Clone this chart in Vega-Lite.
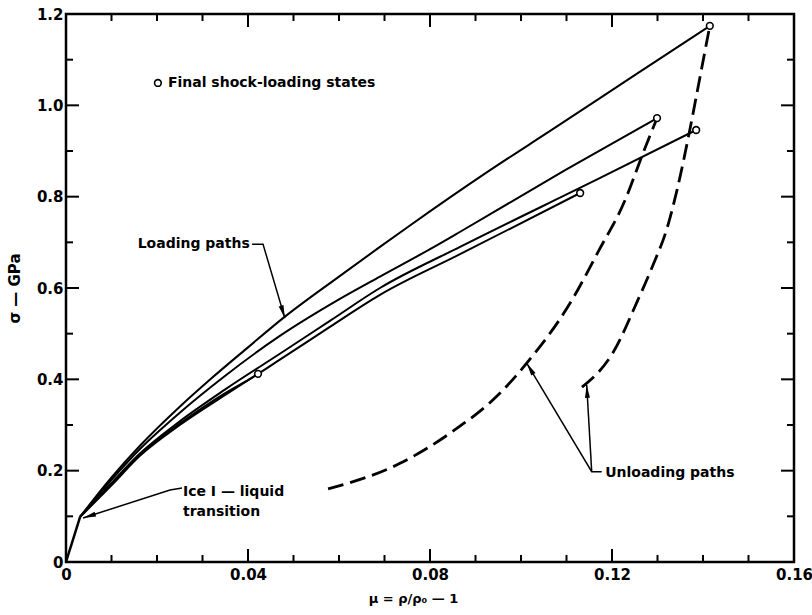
{
  "$schema": "https://vega.github.io/schema/vega-lite/v6.json",
  "autosize": {"type": "none"},
  "padding": {"left": 66, "top": 14, "right": 18, "bottom": 53},
  "width": 728,
  "height": 548,
  "background": "white",
  "config": {
    "view": {"stroke": "black", "strokeWidth": 2.5},
    "font": "DejaVu Sans",
    "axis": {
      "domain": false,
      "ticks": false,
      "grid": false,
      "labelFont": "DejaVu Sans",
      "labelFontSize": 15,
      "labelFontWeight": "bold",
      "labelColor": "black",
      "labelOverlap": false,
      "labelFlush": false,
      "titleFont": "DejaVu Sans",
      "titleColor": "black",
      "titleFontWeight": "bold"
    }
  },
  "datasets": {
    "xticks": [
      {"mu": 0.01, "kind": "minor"}, {"mu": 0.02, "kind": "minor"}, {"mu": 0.03, "kind": "minor"},
      {"mu": 0.04, "kind": "major"},
      {"mu": 0.05, "kind": "minor"}, {"mu": 0.06, "kind": "minor"}, {"mu": 0.07, "kind": "minor"},
      {"mu": 0.08, "kind": "major"},
      {"mu": 0.09, "kind": "minor"}, {"mu": 0.10, "kind": "minor"}, {"mu": 0.11, "kind": "minor"},
      {"mu": 0.12, "kind": "major"},
      {"mu": 0.13, "kind": "minor"}, {"mu": 0.14, "kind": "minor"}, {"mu": 0.15, "kind": "minor"}
    ],
    "yticks": [
      {"sigma": 0.1, "kind": "minor"}, {"sigma": 0.2, "kind": "major"},
      {"sigma": 0.3, "kind": "minor"}, {"sigma": 0.4, "kind": "major"},
      {"sigma": 0.5, "kind": "minor"}, {"sigma": 0.6, "kind": "major"},
      {"sigma": 0.7, "kind": "minor"}, {"sigma": 0.8, "kind": "major"},
      {"sigma": 0.9, "kind": "minor"}, {"sigma": 1.0, "kind": "major"},
      {"sigma": 1.1, "kind": "minor"}
    ],
    "initial": [
      {"mu": 0, "sigma": 0},
      {"mu": 0.0031, "sigma": 0.099}
    ],
    "loading": [
      {"path": "A", "mu": 0.0031, "sigma": 0.099},
      {"path": "A", "mu": 0.01, "sigma": 0.185},
      {"path": "A", "mu": 0.0163, "sigma": 0.255},
      {"path": "A", "mu": 0.025, "sigma": 0.34},
      {"path": "A", "mu": 0.0316, "sigma": 0.399},
      {"path": "A", "mu": 0.04, "sigma": 0.47},
      {"path": "A", "mu": 0.0477, "sigma": 0.534},
      {"path": "A", "mu": 0.06, "sigma": 0.625},
      {"path": "A", "mu": 0.069, "sigma": 0.69},
      {"path": "A", "mu": 0.0749, "sigma": 0.732},
      {"path": "A", "mu": 0.0932, "sigma": 0.858},
      {"path": "A", "mu": 0.1064, "sigma": 0.944},
      {"path": "A", "mu": 0.125, "sigma": 1.066},
      {"path": "A", "mu": 0.1415, "sigma": 1.174},
      {"path": "B", "mu": 0.0031, "sigma": 0.099},
      {"path": "B", "mu": 0.01, "sigma": 0.18},
      {"path": "B", "mu": 0.0163, "sigma": 0.248},
      {"path": "B", "mu": 0.025, "sigma": 0.327},
      {"path": "B", "mu": 0.035, "sigma": 0.408},
      {"path": "B", "mu": 0.047, "sigma": 0.495},
      {"path": "B", "mu": 0.06, "sigma": 0.575},
      {"path": "B", "mu": 0.069, "sigma": 0.625},
      {"path": "B", "mu": 0.08, "sigma": 0.685},
      {"path": "B", "mu": 0.0873, "sigma": 0.727},
      {"path": "B", "mu": 0.1097, "sigma": 0.858},
      {"path": "B", "mu": 0.1299, "sigma": 0.972},
      {"path": "C", "mu": 0.0031, "sigma": 0.099},
      {"path": "C", "mu": 0.01, "sigma": 0.173},
      {"path": "C", "mu": 0.0163, "sigma": 0.238},
      {"path": "C", "mu": 0.025, "sigma": 0.308},
      {"path": "C", "mu": 0.035, "sigma": 0.378},
      {"path": "C", "mu": 0.047, "sigma": 0.456},
      {"path": "C", "mu": 0.058, "sigma": 0.528},
      {"path": "C", "mu": 0.069, "sigma": 0.6},
      {"path": "C", "mu": 0.0866, "sigma": 0.69},
      {"path": "C", "mu": 0.1174, "sigma": 0.841},
      {"path": "C", "mu": 0.1385, "sigma": 0.946},
      {"path": "D", "mu": 0.0031, "sigma": 0.099},
      {"path": "D", "mu": 0.01, "sigma": 0.17},
      {"path": "D", "mu": 0.0163, "sigma": 0.236},
      {"path": "D", "mu": 0.025, "sigma": 0.303},
      {"path": "D", "mu": 0.035, "sigma": 0.37},
      {"path": "D", "mu": 0.0411, "sigma": 0.405},
      {"path": "D", "mu": 0.047, "sigma": 0.443},
      {"path": "D", "mu": 0.058, "sigma": 0.515},
      {"path": "D", "mu": 0.069, "sigma": 0.585},
      {"path": "D", "mu": 0.0866, "sigma": 0.674},
      {"path": "D", "mu": 0.113, "sigma": 0.808},
      {"path": "E", "mu": 0.0031, "sigma": 0.099},
      {"path": "E", "mu": 0.01, "sigma": 0.168},
      {"path": "E", "mu": 0.0163, "sigma": 0.233},
      {"path": "E", "mu": 0.025, "sigma": 0.3},
      {"path": "E", "mu": 0.035, "sigma": 0.366},
      {"path": "E", "mu": 0.0422, "sigma": 0.412}
    ],
    "unloading": [
      {"path": "U1", "mu": 0.0576, "sigma": 0.16},
      {"path": "U1", "mu": 0.0734, "sigma": 0.216},
      {"path": "U1", "mu": 0.0844, "sigma": 0.282},
      {"path": "U1", "mu": 0.0954, "sigma": 0.37},
      {"path": "U1", "mu": 0.1013, "sigma": 0.436},
      {"path": "U1", "mu": 0.1108, "sigma": 0.567},
      {"path": "U1", "mu": 0.117, "sigma": 0.68},
      {"path": "U1", "mu": 0.1229, "sigma": 0.793},
      {"path": "U1", "mu": 0.1268, "sigma": 0.895},
      {"path": "U1", "mu": 0.1299, "sigma": 0.972},
      {"path": "U2", "mu": 0.1134, "sigma": 0.383},
      {"path": "U2", "mu": 0.1202, "sigma": 0.458},
      {"path": "U2", "mu": 0.1257, "sigma": 0.574},
      {"path": "U2", "mu": 0.129, "sigma": 0.65},
      {"path": "U2", "mu": 0.1321, "sigma": 0.731},
      {"path": "U2", "mu": 0.1343, "sigma": 0.815},
      {"path": "U2", "mu": 0.1371, "sigma": 0.946},
      {"path": "U2", "mu": 0.1393, "sigma": 1.06},
      {"path": "U2", "mu": 0.1415, "sigma": 1.174}
    ],
    "states": [
      {"mu": 0.1415, "sigma": 1.174},
      {"mu": 0.1299, "sigma": 0.972},
      {"mu": 0.1385, "sigma": 0.946},
      {"mu": 0.113, "sigma": 0.808},
      {"mu": 0.0422, "sigma": 0.412}
    ],
    "legend": [
      {"mu": 0.0202, "sigma": 1.049}
    ],
    "leaders": [
      {"id": "loading", "mu": 0.0409, "sigma": 0.696},
      {"id": "loading", "mu": 0.0433, "sigma": 0.696},
      {"id": "loading", "mu": 0.0481, "sigma": 0.534},
      {"id": "ice", "mu": 0.0255, "sigma": 0.162},
      {"id": "ice", "mu": 0.02286, "sigma": 0.1577},
      {"id": "ice", "mu": 0.00374, "sigma": 0.0963},
      {"id": "unload1", "mu": 0.10125, "sigma": 0.4356},
      {"id": "unload1", "mu": 0.11554, "sigma": 0.1977},
      {"id": "unload1", "mu": 0.11774, "sigma": 0.1977},
      {"id": "unload2", "mu": 0.11444, "sigma": 0.3876},
      {"id": "unload2", "mu": 0.11554, "sigma": 0.1977}
    ],
    "arrows": [
      {"arrow": "loading", "mu": 0.0481, "sigma": 0.534},
      {"arrow": "ice", "mu": 0.00374, "sigma": 0.0963},
      {"arrow": "unload1", "mu": 0.10125, "sigma": 0.4356},
      {"arrow": "unload2", "mu": 0.11444, "sigma": 0.3876}
    ],
    "notes_left": [
      {"text": "Final shock-loading states", "mu": 0.0224, "sigma": 1.049},
      {"text": "Ice I — liquid", "mu": 0.0257, "sigma": 0.153},
      {"text": "transition", "mu": 0.0257, "sigma": 0.11},
      {"text": "Unloading paths", "mu": 0.1185, "sigma": 0.195}
    ],
    "notes_right": [
      {"text": "Loading paths", "mu": 0.0404, "sigma": 0.696}
    ]
  },
  "resolve": {"axis": {"x": "independent", "y": "independent"}},
  "layer": [
    {
      "data": {"name": "loading"},
      "mark": {"type": "line", "color": "black", "strokeWidth": 2, "interpolate": "monotone"},
      "encoding": {
        "x": {
          "field": "mu", "type": "quantitative",
          "scale": {"domain": [0, 0.16], "nice": false, "zero": false},
          "axis": {
            "orient": "bottom",
            "values": [0, 0.04, 0.08, 0.12, 0.16],
            "labelExpr": "datum.value == 0 ? '0' : format(datum.value, '.2f')",
            "labelPadding": 5,
            "title": "μ = ρ/ρ₀ — 1",
            "titleFontSize": 13,
            "titlePadding": 10,
            "titleX": 347
          }
        },
        "y": {
          "field": "sigma", "type": "quantitative",
          "scale": {"domain": [0, 1.2], "nice": false, "zero": false},
          "axis": {
            "orient": "left",
            "values": [0, 0.2, 0.4, 0.6, 0.8, 1.0, 1.2],
            "labelExpr": "datum.value == 0 ? '0' : format(datum.value, '.1f')",
            "labelPadding": 3,
            "title": "σ — GPa",
            "titleFontSize": 15,
            "titlePadding": 14
          }
        },
        "detail": {"field": "path"}
      }
    },
    {
      "data": {"name": "initial"},
      "mark": {"type": "line", "color": "black", "strokeWidth": 2.5},
      "encoding": {
        "x": {"field": "mu", "type": "quantitative", "axis": null},
        "y": {"field": "sigma", "type": "quantitative", "axis": null}
      }
    },
    {
      "data": {"name": "unloading"},
      "mark": {"type": "line", "color": "black", "strokeWidth": 2.8, "strokeDash": [16, 7], "interpolate": "monotone"},
      "encoding": {
        "x": {"field": "mu", "type": "quantitative", "axis": null},
        "y": {"field": "sigma", "type": "quantitative", "axis": null},
        "detail": {"field": "path"}
      }
    },
    {
      "data": {"name": "leaders"},
      "mark": {"type": "line", "color": "black", "strokeWidth": 1.5},
      "encoding": {
        "x": {"field": "mu", "type": "quantitative", "axis": null},
        "y": {"field": "sigma", "type": "quantitative", "axis": null},
        "detail": {"field": "id"}
      }
    },
    {
      "data": {"name": "xticks"},
      "transform": [{"filter": "datum.kind == 'major'"}],
      "mark": {"type": "rule", "color": "black", "strokeWidth": 2, "opacity": 1},
      "encoding": {
        "x": {"field": "mu", "type": "quantitative", "axis": null},
        "y": {"datum": 0, "type": "quantitative", "axis": null},
        "y2": {"datum": 0.0285}
      }
    },
    {
      "data": {"name": "xticks"},
      "transform": [{"filter": "datum.kind == 'minor'"}],
      "mark": {"type": "rule", "color": "black", "strokeWidth": 2, "opacity": 1},
      "encoding": {
        "x": {"field": "mu", "type": "quantitative", "axis": null},
        "y": {"datum": 0, "type": "quantitative", "axis": null},
        "y2": {"datum": 0.0153}
      }
    },
    {
      "data": {"name": "xticks"},
      "transform": [{"filter": "datum.kind == 'major'"}],
      "mark": {"type": "rule", "color": "black", "strokeWidth": 2, "opacity": 1},
      "encoding": {
        "x": {"field": "mu", "type": "quantitative", "axis": null},
        "y": {"datum": 1.2, "type": "quantitative", "axis": null},
        "y2": {"datum": 1.1715}
      }
    },
    {
      "data": {"name": "xticks"},
      "transform": [{"filter": "datum.kind == 'minor'"}],
      "mark": {"type": "rule", "color": "black", "strokeWidth": 2, "opacity": 1},
      "encoding": {
        "x": {"field": "mu", "type": "quantitative", "axis": null},
        "y": {"datum": 1.2, "type": "quantitative", "axis": null},
        "y2": {"datum": 1.1847}
      }
    },
    {
      "data": {"name": "yticks"},
      "transform": [{"filter": "datum.kind == 'major'"}],
      "mark": {"type": "rule", "color": "black", "strokeWidth": 2, "opacity": 1},
      "encoding": {
        "x": {"datum": 0, "type": "quantitative", "axis": null},
        "x2": {"datum": 0.00286},
        "y": {"field": "sigma", "type": "quantitative", "axis": null}
      }
    },
    {
      "data": {"name": "yticks"},
      "transform": [{"filter": "datum.kind == 'minor'"}],
      "mark": {"type": "rule", "color": "black", "strokeWidth": 2, "opacity": 1},
      "encoding": {
        "x": {"datum": 0, "type": "quantitative", "axis": null},
        "x2": {"datum": 0.00154},
        "y": {"field": "sigma", "type": "quantitative", "axis": null}
      }
    },
    {
      "data": {"name": "yticks"},
      "transform": [{"filter": "datum.kind == 'major'"}],
      "mark": {"type": "rule", "color": "black", "strokeWidth": 2, "opacity": 1},
      "encoding": {
        "x": {"datum": 0.16, "type": "quantitative", "axis": null},
        "x2": {"datum": 0.15714},
        "y": {"field": "sigma", "type": "quantitative", "axis": null}
      }
    },
    {
      "data": {"name": "yticks"},
      "transform": [{"filter": "datum.kind == 'minor'"}],
      "mark": {"type": "rule", "color": "black", "strokeWidth": 2, "opacity": 1},
      "encoding": {
        "x": {"datum": 0.16, "type": "quantitative", "axis": null},
        "x2": {"datum": 0.15846},
        "y": {"field": "sigma", "type": "quantitative", "axis": null}
      }
    },
    {
      "data": {"name": "states"},
      "mark": {"type": "point", "shape": "circle", "filled": true, "fill": "white", "stroke": "black", "strokeWidth": 1.6, "size": 45, "opacity": 1},
      "encoding": {
        "x": {"field": "mu", "type": "quantitative", "axis": null},
        "y": {"field": "sigma", "type": "quantitative", "axis": null}
      }
    },
    {
      "data": {"name": "legend"},
      "mark": {"type": "point", "shape": "circle", "filled": true, "fill": "white", "stroke": "black", "strokeWidth": 1.6, "size": 45, "opacity": 1},
      "encoding": {
        "x": {"field": "mu", "type": "quantitative", "axis": null},
        "y": {"field": "sigma", "type": "quantitative", "axis": null}
      }
    },
    {
      "data": {"name": "arrows"},
      "transform": [{"filter": "datum.arrow == 'loading'"}],
      "mark": {"type": "point", "shape": "M0,0L0.25,1.3L-0.25,1.3Z", "filled": true, "color": "black", "opacity": 1, "size": 400, "angle": 163.2},
      "encoding": {
        "x": {"field": "mu", "type": "quantitative", "axis": null},
        "y": {"field": "sigma", "type": "quantitative", "axis": null}
      }
    },
    {
      "data": {"name": "arrows"},
      "transform": [{"filter": "datum.arrow == 'ice'"}],
      "mark": {"type": "point", "shape": "M0,0L0.25,1.3L-0.25,1.3Z", "filled": true, "color": "black", "opacity": 1, "size": 400, "angle": -107.8},
      "encoding": {
        "x": {"field": "mu", "type": "quantitative", "axis": null},
        "y": {"field": "sigma", "type": "quantitative", "axis": null}
      }
    },
    {
      "data": {"name": "arrows"},
      "transform": [{"filter": "datum.arrow == 'unload1'"}],
      "mark": {"type": "point", "shape": "M0,0L0.25,1.3L-0.25,1.3Z", "filled": true, "color": "black", "opacity": 1, "size": 400, "angle": -30.9},
      "encoding": {
        "x": {"field": "mu", "type": "quantitative", "axis": null},
        "y": {"field": "sigma", "type": "quantitative", "axis": null}
      }
    },
    {
      "data": {"name": "arrows"},
      "transform": [{"filter": "datum.arrow == 'unload2'"}],
      "mark": {"type": "point", "shape": "M0,0L0.25,1.3L-0.25,1.3Z", "filled": true, "color": "black", "opacity": 1, "size": 400, "angle": -3.3},
      "encoding": {
        "x": {"field": "mu", "type": "quantitative", "axis": null},
        "y": {"field": "sigma", "type": "quantitative", "axis": null}
      }
    },
    {
      "data": {"name": "notes_left"},
      "mark": {"type": "text", "align": "left", "baseline": "middle", "font": "DejaVu Sans", "fontSize": 14, "fontWeight": "bold", "color": "black"},
      "encoding": {
        "x": {"field": "mu", "type": "quantitative", "axis": null},
        "y": {"field": "sigma", "type": "quantitative", "axis": null},
        "text": {"field": "text"}
      }
    },
    {
      "data": {"name": "notes_right"},
      "mark": {"type": "text", "align": "right", "baseline": "middle", "font": "DejaVu Sans", "fontSize": 14, "fontWeight": "bold", "color": "black"},
      "encoding": {
        "x": {"field": "mu", "type": "quantitative", "axis": null},
        "y": {"field": "sigma", "type": "quantitative", "axis": null},
        "text": {"field": "text"}
      }
    }
  ]
}
